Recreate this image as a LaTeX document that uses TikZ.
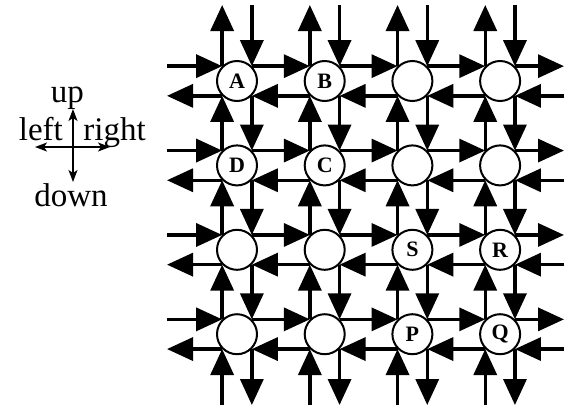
\documentclass[tikz,border=0pt]{standalone}
\usepackage{fontspec}
\setmainfont{Liberation Serif}
\usetikzlibrary{positioning,arrows.meta}
\tikzset{
  router/.style={draw, circle, line width=1pt, fill=white, minimum size=20pt, inner sep=0pt, font=\fontsize{11}{13}\selectfont\bfseries},
  arrow/.style={-{Triangle[length=13pt, width=11.5pt]}, line width=1.7pt},
  legarrow/.style={-{Stealth[length=6pt, width=4.5pt, inset=1.5pt]}, line width=0.75pt},
  legtext/.style={inner sep=0pt, font=\fontsize{16.5}{18}\selectfont}
}

\begin{document}
\begin{tikzpicture}[node distance=21.2pt and 22.85pt]
    \useasboundingbox (-118.5pt,40.5pt) rectangle (164.5pt,-163.5pt);
    \node[router] (A) at (0,0) {A};
    \node[router, right=of A] (B) {B};
    \node[router, right=of B] (r1c3) {};
    \node[router, right=of r1c3] (r1c4) {};
    \node[router, below=of A] (D) {D};
    \node[router, right=of D] (C) {C};
    \node[router, right=of C] (r2c3) {};
    \node[router, right=of r2c3] (r2c4) {};
    \node[router, below=of D] (r3c1) {};
    \node[router, right=of r3c1] (r3c2) {};
    \node[router, right=of r3c2] (S) {S};
    \node[router, right=of S] (R) {R};
    \node[router, below=of r3c1] (r4c1) {};
    \node[router, right=of r4c1] (r4c2) {};
    \node[router, right=of r4c2] (P) {P};
    \node[router, right=of P] (Q) {Q};
    \coordinate (westend) at (-35pt,0);
    \coordinate (eastend) at (163.5pt,0);
    \coordinate (northend) at (0,38pt);
    \coordinate (southend) at (0,-162pt);
    \draw[arrow] (westend |- A.north west) -- (A.north west);
    \draw[arrow] (A.north east) -- (B.north west);
    \draw[arrow] (B.north east) -- (r1c3.north west);
    \draw[arrow] (r1c3.north east) -- (r1c4.north west);
    \draw[arrow] (r1c4.north east) -- (eastend |- r1c4.north east);
    \draw[arrow] (eastend |- r1c4.south east) -- (r1c4.south east);
    \draw[arrow] (r1c4.south west) -- (r1c3.south east);
    \draw[arrow] (r1c3.south west) -- (B.south east);
    \draw[arrow] (B.south west) -- (A.south east);
    \draw[arrow] (A.south west) -- (westend |- A.south west);
    \draw[arrow] (westend |- D.north west) -- (D.north west);
    \draw[arrow] (D.north east) -- (C.north west);
    \draw[arrow] (C.north east) -- (r2c3.north west);
    \draw[arrow] (r2c3.north east) -- (r2c4.north west);
    \draw[arrow] (r2c4.north east) -- (eastend |- r2c4.north east);
    \draw[arrow] (eastend |- r2c4.south east) -- (r2c4.south east);
    \draw[arrow] (r2c4.south west) -- (r2c3.south east);
    \draw[arrow] (r2c3.south west) -- (C.south east);
    \draw[arrow] (C.south west) -- (D.south east);
    \draw[arrow] (D.south west) -- (westend |- D.south west);
    \draw[arrow] (westend |- r3c1.north west) -- (r3c1.north west);
    \draw[arrow] (r3c1.north east) -- (r3c2.north west);
    \draw[arrow] (r3c2.north east) -- (S.north west);
    \draw[arrow] (S.north east) -- (R.north west);
    \draw[arrow] (R.north east) -- (eastend |- R.north east);
    \draw[arrow] (eastend |- R.south east) -- (R.south east);
    \draw[arrow] (R.south west) -- (S.south east);
    \draw[arrow] (S.south west) -- (r3c2.south east);
    \draw[arrow] (r3c2.south west) -- (r3c1.south east);
    \draw[arrow] (r3c1.south west) -- (westend |- r3c1.south west);
    \draw[arrow] (westend |- r4c1.north west) -- (r4c1.north west);
    \draw[arrow] (r4c1.north east) -- (r4c2.north west);
    \draw[arrow] (r4c2.north east) -- (P.north west);
    \draw[arrow] (P.north east) -- (Q.north west);
    \draw[arrow] (Q.north east) -- (eastend |- Q.north east);
    \draw[arrow] (eastend |- Q.south east) -- (Q.south east);
    \draw[arrow] (Q.south west) -- (P.south east);
    \draw[arrow] (P.south west) -- (r4c2.south east);
    \draw[arrow] (r4c2.south west) -- (r4c1.south east);
    \draw[arrow] (r4c1.south west) -- (westend |- r4c1.south west);
    \draw[arrow] (A.north west) -- (northend -| A.north west);
    \draw[arrow] (D.north west) -- (A.south west);
    \draw[arrow] (r3c1.north west) -- (D.south west);
    \draw[arrow] (r4c1.north west) -- (r3c1.south west);
    \draw[arrow] (southend -| r4c1.south west) -- (r4c1.south west);
    \draw[arrow] (northend -| A.north east) -- (A.north east);
    \draw[arrow] (A.south east) -- (D.north east);
    \draw[arrow] (D.south east) -- (r3c1.north east);
    \draw[arrow] (r3c1.south east) -- (r4c1.north east);
    \draw[arrow] (r4c1.south east) -- (southend -| r4c1.south east);
    \draw[arrow] (B.north west) -- (northend -| B.north west);
    \draw[arrow] (C.north west) -- (B.south west);
    \draw[arrow] (r3c2.north west) -- (C.south west);
    \draw[arrow] (r4c2.north west) -- (r3c2.south west);
    \draw[arrow] (southend -| r4c2.south west) -- (r4c2.south west);
    \draw[arrow] (northend -| B.north east) -- (B.north east);
    \draw[arrow] (B.south east) -- (C.north east);
    \draw[arrow] (C.south east) -- (r3c2.north east);
    \draw[arrow] (r3c2.south east) -- (r4c2.north east);
    \draw[arrow] (r4c2.south east) -- (southend -| r4c2.south east);
    \draw[arrow] (r1c3.north west) -- (northend -| r1c3.north west);
    \draw[arrow] (r2c3.north west) -- (r1c3.south west);
    \draw[arrow] (S.north west) -- (r2c3.south west);
    \draw[arrow] (P.north west) -- (S.south west);
    \draw[arrow] (southend -| P.south west) -- (P.south west);
    \draw[arrow] (northend -| r1c3.north east) -- (r1c3.north east);
    \draw[arrow] (r1c3.south east) -- (r2c3.north east);
    \draw[arrow] (r2c3.south east) -- (S.north east);
    \draw[arrow] (S.south east) -- (P.north east);
    \draw[arrow] (P.south east) -- (southend -| P.south east);
    \draw[arrow] (r1c4.north west) -- (northend -| r1c4.north west);
    \draw[arrow] (r2c4.north west) -- (r1c4.south west);
    \draw[arrow] (R.north west) -- (r2c4.south west);
    \draw[arrow] (Q.north west) -- (R.south west);
    \draw[arrow] (southend -| Q.south west) -- (Q.south west);
    \draw[arrow] (northend -| r1c4.north east) -- (r1c4.north east);
    \draw[arrow] (r1c4.south east) -- (r2c4.north east);
    \draw[arrow] (r2c4.south east) -- (R.north east);
    \draw[arrow] (R.south east) -- (Q.north east);
    \draw[arrow] (Q.south east) -- (southend -| Q.south east);
    \coordinate (lgc) at (-82pt,-33pt);
    \coordinate[above=19pt of lgc] (lgup);
    \coordinate[below=17.5pt of lgc] (lgdown);
    \coordinate[left=19pt of lgc] (lgleft);
    \coordinate[right=18.5pt of lgc] (lgright);
    \draw[legarrow] (lgc) -- (lgup);
    \draw[legarrow] (lgc) -- (lgdown);
    \draw[legarrow] (lgc) -- (lgleft);
    \draw[legarrow] (lgc) -- (lgright);
    \node[legtext, anchor=base] (uplbl) at ([xshift=-2.75pt, yshift=3.5pt]lgup) {up};
    \node[legtext, anchor=base] (downlbl) at ([xshift=-1pt, yshift=-12.4pt]lgdown) {down};
    \node[legtext, anchor=base east] (leftlbl) at ([xshift=-4.85pt, yshift=3.5pt]lgc) {left};
    \node[legtext, anchor=base west] (rightlbl) at ([xshift=5pt, yshift=3.5pt]lgc) {right};
  \end{tikzpicture}
\end{document}
